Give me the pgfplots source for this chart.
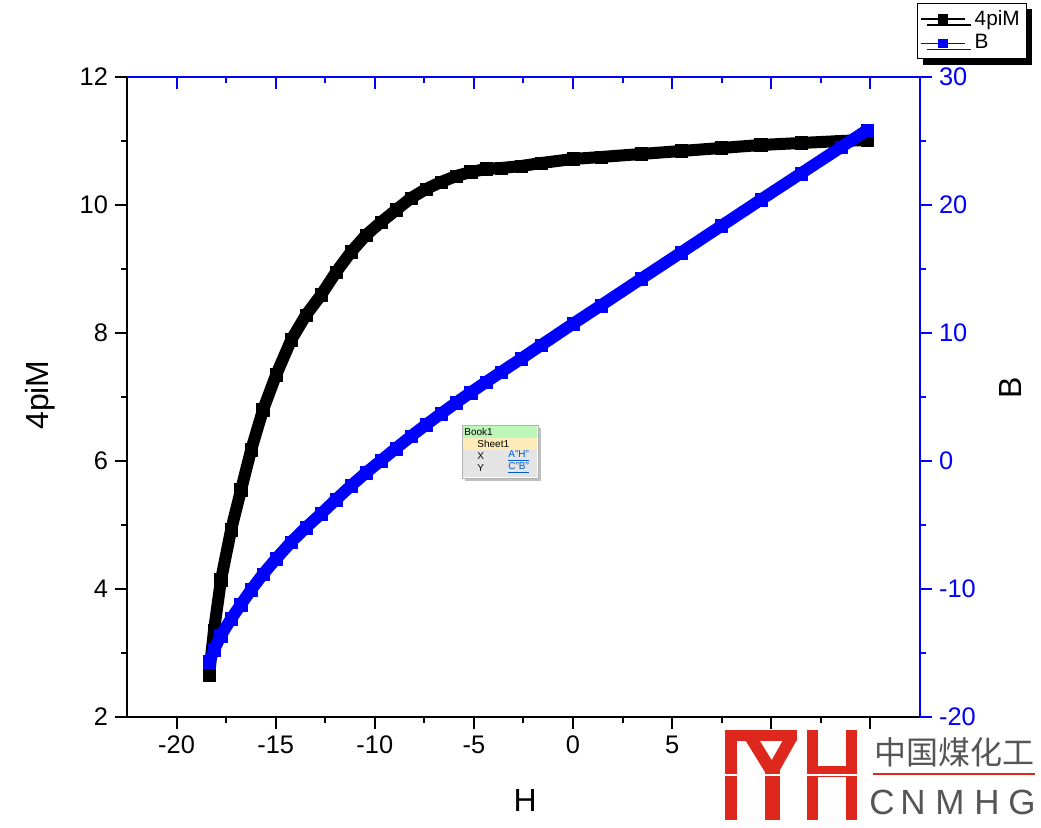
\documentclass[border=0pt]{standalone}
\usepackage{fontspec}
\setmainfont{Liberation Sans}
\newfontfamily\cjk{Noto Sans CJK SC}
\usepackage{pgfplots}
\usepackage{pgfplotstable}
\pgfplotsset{compat=1.18}
\usetikzlibrary{shadows}

\definecolor{obl}{RGB}{0,0,255}
\definecolor{logored}{RGB}{222,40,30}
\definecolor{logogray}{RGB}{85,85,85}
\definecolor{tipgreen}{RGB}{188,246,184}
\definecolor{tipyellow}{RGB}{253,236,186}
\definecolor{tipgray}{RGB}{228,228,228}
\definecolor{tiplink}{RGB}{0,90,210}

% H, 4piM, B
\pgfplotstableread{
H M B
-18.36 2.656 -15.70
-18.11 3.359 -14.75
-17.76 4.141 -13.62
-17.25 4.922 -12.33
-16.75 5.547 -11.20
-16.24 6.172 -10.07
-15.64 6.797 -8.84
-14.98 7.344 -7.64
-14.22 7.891 -6.33
-13.47 8.281 -5.19
-12.71 8.594 -4.12
-11.95 8.953 -3.00
-11.20 9.266 -1.93
-10.44 9.531 -0.91
-9.68 9.734 0.05
-8.93 9.922 0.99
-8.17 10.109 1.94
-7.41 10.250 2.84
-6.66 10.359 3.70
-5.90 10.453 4.55
-5.15 10.516 5.37
-4.39 10.563 6.17
-3.63 10.578 6.95
-2.62 10.609 7.99
-1.61 10.656 9.05
0.00 10.719 10.72
1.41 10.750 12.16
3.43 10.797 14.23
5.45 10.844 16.29
7.47 10.891 18.36
9.48 10.938 20.42
11.50 10.969 22.47
13.52 11.000 24.52
14.83 11.016 25.85
}\hystdata

\pgfplotsset{
  base/.style={
    scale only axis, width=396.5pt, height=320pt,
    at={(63.5pt,55pt)}, anchor=south west,
    xmin=-22.5, xmax=17.5,
    major tick length=6pt, minor tick length=3pt,
    axis line style={line width=1pt},
    tick label style={font=\fontsize{12.7}{15}\selectfont},
    /pgf/number format/assume math mode=true,
    label style={font=\fontsize{16}{19}\selectfont},
    clip=false,
  },
  thick band/.style={line width=6pt, line join=round, mark=square*, mark size=3.2pt, mark options={line width=0.1pt}},
}

\begin{document}
\begin{tikzpicture}
\useasboundingbox (0,0) rectangle (520.5pt,413.5pt);

\begin{axis}[base,
  ymin=2, ymax=12,
  axis x line*=bottom, axis y line*=left,
  tick align=outside,
  tick style={black, line width=1pt},
  xtick={-20,-15,...,15}, ytick={2,4,...,12},
  xticklabels={-20,-15,-10,-5,0,5,,},
  minor x tick num=1, minor y tick num=1,
  xlabel={H}, ylabel={4piM},
  xlabel style={at={(axis description cs:0.502,-0.13)}, anchor=center},
  ylabel style={at={(axis description cs:-0.11,0.503)}, anchor=center},
]
\addplot[black, thick band] table[x=H, y=M]{\hystdata};
\end{axis}

\begin{axis}[base,
  ymin=0, ymax=1,
  hide y axis,
  axis x line*=top,
  tick align=inside,
  axis line style={obl, line width=1pt},
  tick style={obl, line width=1pt},
  xtick={-20,-15,...,15}, minor x tick num=1,
  xticklabels={,,,,,,,},
]
\end{axis}

\begin{axis}[base,
  ymin=-20, ymax=30,
  hide x axis,
  axis y line*=right,
  tick align=outside,
  axis line style={obl, line width=1pt},
  tick style={obl, line width=1pt},
  ytick={-20,-10,...,30}, minor y tick num=1,
  yticklabel style={text=obl},
  ylabel={B},
  ylabel style={at={(axis description cs:1.1135,0.514)}, anchor=center},
  legend image code/.code={\draw[mark repeat=2, mark phase=2, #1] plot coordinates {(0pt,0pt) (11pt,0pt) (22pt,0pt)};},
  legend cell align=left,
  legend style={at={(axis description cs:0.996,1.116)}, anchor=north west,
    draw=black, line width=0.5pt, fill=white,
    font=\fontsize{10.4}{12}\selectfont,
    nodes={inner sep=1.6pt}, inner xsep=1.5pt, inner ysep=1.8pt,
    /tikz/every odd column/.style={column sep=3pt},
    drop shadow={shadow xshift=3pt, shadow yshift=-3pt, fill=black, opacity=1}},
]
\addlegendimage{black, line width=0.6pt, mark=square*, mark size=2pt, mark options={solid}}
\addlegendentry{4piM}
\addlegendimage{obl, line width=0.6pt, mark=square*, mark size=2pt, mark options={solid}}
\addlegendentry{B}
\addplot[obl, thick band, forget plot] table[x=H, y=B]{\hystdata};
\end{axis}

% decorations in pixel coordinates of the reference
\begin{scope}[x=0.5pt, y=-0.5pt, yshift=413.5pt]
  % data tooltip
  \fill[black, opacity=0.25] (465,428) rectangle (541,481);
  \draw[fill=white, draw=gray!60, line width=0.4pt] (462,425) rectangle (538,478);
  \fill[tipgreen] (463,426) rectangle (537,438);
  \fill[tipyellow] (463,438) rectangle (537,450);
  \fill[tipgray] (463,450) rectangle (537,477);
  \begin{scope}[font=\fontsize{5}{6}\selectfont, inner sep=0pt]
    \node[anchor=west] at (464,432) {Book1};
    \node[anchor=west] at (477,444) {Sheet1};
    \node[anchor=west] at (477,456) {X};
    \node[anchor=west] at (477,468) {Y};
    \node[anchor=west, text=tiplink] at (508,456) {\underline{A"H"}};
    \node[anchor=west, text=tiplink] at (508,468) {\underline{C"B"}};
  \end{scope}
  % watermark
  \fill[white] (722,730) rectangle (1041,827);
  \fill[logored] (725,730) rectangle (737,820);
  \fill[logored] (725,730) rectangle (797,741);
  \draw[logored, line width=6pt] (751,738) -- (772,772) -- (791,738);
  \fill[logored] (765,770) rectangle (780,820);
  \fill[logored] (807,730) rectangle (818,820);
  \fill[logored] (846,730) rectangle (857,820);
  \fill[logored] (807,766) rectangle (857,777);
  \draw[white, line width=0.7pt] (722,775) -- (860,775);
  \node[text=logogray, font=\cjk\fontsize{16}{18}\selectfont] at (954,752) {中国煤化工};
  \draw[logored, line width=1pt] (873,774) -- (1035,774);
  \begin{scope}[text=logogray, font=\fontsize{17.5}{20}\selectfont]
    \node at (882,802) {C};
    \node at (913,802) {N};
    \node at (950,802) {M};
    \node at (987,802) {H};
    \node at (1022,802) {G};
  \end{scope}
\end{scope}
\end{tikzpicture}
\end{document}
